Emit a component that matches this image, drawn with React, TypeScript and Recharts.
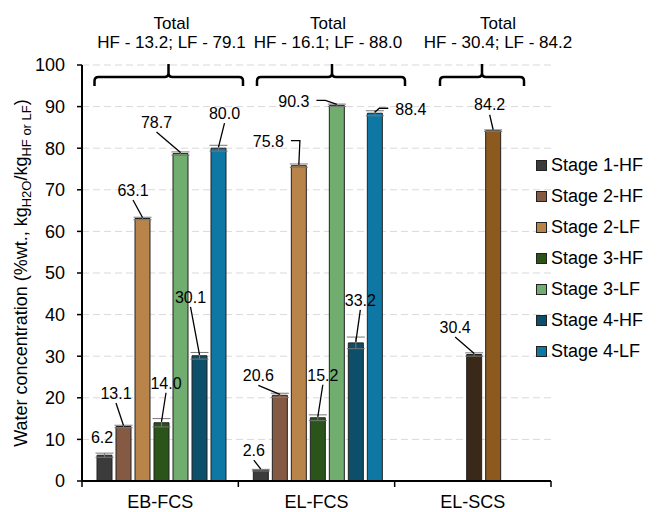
import React from "react";
import {
  BarChart,
  Bar,
  XAxis,
  YAxis,
  CartesianGrid,
  Legend,
  LabelList,
  ErrorBar,
  Cell,
} from "recharts";

const FONT = "'Liberation Sans', Arial, sans-serif";

const categories = ["EB-FCS", "EL-FCS", "EL-SCS"];

// water content per stage; EL-SCS only has one HF and one LF fraction
const stage1HF = [6.2, 2.6, null];
const stage2HF = [13.1, 20.6, null];
const stage2LF = [63.1, 75.8, null];
const stage3HF = [14.0, 15.2, 30.4];
const stage3LF = [78.7, 90.3, 84.2];
const stage4HF = [30.1, 33.2, null];
const stage4LF = [80.0, 88.4, null];

// standard deviations
const stage1HFErr = [0.5, 0.2, null];
const stage2HFErr = [0.3, 0.5, null];
const stage2LFErr = [0.3, 0.4, null];
const stage3HFErr = [1.0, 0.7, 0.4];
const stage3LFErr = [0.4, 0.3, 0.2];
const stage4HFErr = [0.8, 1.4, null];
const stage4LFErr = [0.7, 0.6, null];

const totalHF = [13.2, 16.1, 30.4];
const totalLF = [79.1, 88.0, 84.2];

const yTicks = [0, 10, 20, 30, 40, 50, 60, 70, 80, 90, 100];

const series = [
  { key: "s1hf", name: "Stage 1-HF", values: stage1HF, errors: stage1HFErr, color: "#3b3b3b" },
  { key: "s2hf", name: "Stage 2-HF", values: stage2HF, errors: stage2HFErr, color: "#845a45" },
  { key: "s2lf", name: "Stage 2-LF", values: stage2LF, errors: stage2LFErr, color: "#b9844a" },
  { key: "s3hf", name: "Stage 3-HF", values: stage3HF, errors: stage3HFErr, color: "#2a5419" },
  { key: "s3lf", name: "Stage 3-LF", values: stage3LF, errors: stage3LFErr, color: "#70ad6f" },
  { key: "s4hf", name: "Stage 4-HF", values: stage4HF, errors: stage4HFErr, color: "#0d4f6b" },
  { key: "s4lf", name: "Stage 4-LF", values: stage4LF, errors: stage4LFErr, color: "#0f77a3" },
];

// the single-stage EL-SCS bars get their own colours
const scsColors: Record<string, string> = { s3hf: "#3a2918", s3lf: "#8c5a1f" };

const data = categories.map((name, i) => {
  const row: Record<string, any> = { name };
  series.forEach((s) => {
    row[s.key] = s.values[i];
    row[s.key + "Err"] = s.errors[i];
  });
  return row;
});

// chart geometry
const W = 667;
const H = 512;
const PLOT_TOP = 65;
const PLOT_BOTTOM = 481;
const PLOT_LEFT = 82;
const PLOT_RIGHT = 551;
const Y_AXIS_W = 40;
const X_AXIS_H = 31;
const BAND = (PLOT_RIGHT - PLOT_LEFT) / categories.length;

type Leader = "none" | "down" | "side";
// callout placement: offset of the label centre from the bar top, and leader style
const labelPlacement: Record<string, ([number, number, Leader] | null)[]> = {
  s1hf: [[-2.5, -18, "none"], [-7, -20, "down"], null],
  s2hf: [[-7.5, -33.5, "down"], [-21.5, -20, "down"], null],
  s2lf: [[-9.5, -28.5, "down"], [-30.5, -24, "side"], null],
  s3hf: [[4.5, -40, "down"], [5, -43, "down"], [-19, -27.5, "down"]],
  s3lf: [[-24, -31.6, "down"], [-43, -4, "side"], [-3.5, -26, "down"]],
  s4hf: [[-9, -59, "down"], [4.5, -43, "down"], null],
  s4lf: [[6, -35, "down"], [36, -4, "side"], null],
};

const halfTextWidth = (t: string) =>
  t.split("").reduce((w, c) => w + (c === "." ? 4.45 : 8.9), 0) / 2;

const makeLabel = (key: string) => (props: any) => {
  const { x, y, width, value, index } = props;
  if (value == null) return null;
  const place = labelPlacement[key][index];
  if (!place) return null;
  const [dx, dy, leader] = place;
  const bx = Number(x) + Number(width) / 2;
  const by = Number(y);
  const tx = bx + dx;
  const ty = by + dy;
  const text = Number(value).toFixed(1);
  let d = "";
  if (leader === "down") {
    d = `M${tx},${ty + 10}L${bx},${by - 1}`;
  } else if (leader === "side") {
    const dir = bx > tx ? 1 : -1;
    const sx = tx + dir * (halfTextWidth(text) + 7);
    d = `M${sx},${ty - 1}L${sx + dir * 9},${ty - 1}L${bx},${by - 1}`;
  }
  return (
    <g>
      {d && <path d={d} stroke="#000" strokeWidth={1.3} fill="none" />}
      <text x={tx} y={ty} dy="0.36em" textAnchor="middle" fontSize={16} fontFamily={FONT} fill="#000">
        {text}
      </text>
    </g>
  );
};

const CategoryTick = (props: any) => {
  const { x, payload, index } = props;
  const half = BAND / 2;
  return (
    <g>
      <line x1={x - half} x2={x - half} y1={PLOT_BOTTOM} y2={PLOT_BOTTOM + 6} stroke="#000" strokeWidth={1.5} />
      {index === categories.length - 1 && (
        <line x1={x + half} x2={x + half} y1={PLOT_BOTTOM} y2={PLOT_BOTTOM + 6} stroke="#000" strokeWidth={1.5} />
      )}
      <text x={x} y={PLOT_BOTTOM + 27} textAnchor="middle" fontSize={18} fontFamily={FONT} fill="#000">
        {payload.value}
      </text>
    </g>
  );
};

const renderLegend = () => (
  <div style={{ fontFamily: FONT, fontSize: 18, color: "#000" }}>
    {series.map((s) => (
      <div key={s.key} style={{ height: 31, display: "flex", alignItems: "center" }}>
        <span
          style={{
            width: 9,
            height: 9,
            background: s.color,
            border: "1px solid #222",
            marginRight: 4,
            display: "inline-block",
          }}
        />
        <span>{s.name}</span>
      </div>
    ))}
  </div>
);

// curly braces over each feed, with the total water contents
const braces = [
  { x0: 94.5, x1: 243, cx: 168.5, textX: 171.5 },
  { x0: 257, x1: 405, cx: 332, textX: 328 },
  { x0: 440, x1: 524, cx: 482, textX: 498 },
];

const bracePath = (x0: number, x1: number, cx: number) => {
  const y = 77;
  const r = 4;
  return (
    `M${x0},86L${x0},${y + r}Q${x0},${y} ${x0 + r},${y}L${cx - r},${y}Q${cx},${y} ${cx},${y - r}L${cx},64` +
    `M${cx},${y - r}Q${cx},${y} ${cx + r},${y}L${x1 - r},${y}Q${x1},${y} ${x1},${y + r}L${x1},86`
  );
};

export default function App() {
  return (
    <div style={{ position: "absolute", left: 0, top: 0, width: W, height: H, background: "#fff" }}>
      <BarChart
        width={W}
        height={H}
        data={data}
        margin={{ top: PLOT_TOP, right: W - PLOT_RIGHT, bottom: H - PLOT_BOTTOM - X_AXIS_H, left: PLOT_LEFT - Y_AXIS_W }}
        barCategoryGap={15}
        barGap={4}
      >
        <CartesianGrid vertical={false} stroke="#d9d9d9" strokeDasharray="7 4" />
        <XAxis
          dataKey="name"
          height={X_AXIS_H}
          interval={0}
          axisLine={{ stroke: "#000", strokeWidth: 2 }}
          tickLine={false}
          tick={<CategoryTick />}
        />
        <YAxis
          domain={[0, 100]}
          ticks={yTicks}
          width={Y_AXIS_W}
          axisLine={{ stroke: "#000", strokeWidth: 2 }}
          tickLine={{ stroke: "#000", strokeWidth: 1.5 }}
          tickSize={5}
          tickMargin={12}
          tick={{ fontSize: 18, fill: "#000", fontFamily: FONT }}
          allowDataOverflow
        />
        <Legend
          layout="horizontal"
          align="center"
          verticalAlign="middle"
          content={renderLegend}
          wrapperStyle={{ left: 536, top: 150, width: 130, height: 220 }}
        />
        {series.map((s) => (
          <Bar
            key={s.key}
            dataKey={s.key}
            name={s.name}
            fill={s.color}
            stroke="#222"
            strokeWidth={1}
            isAnimationActive={false}
          >
            {data.map((_, i) => (
              <Cell key={i} fill={i === 2 && scsColors[s.key] ? scsColors[s.key] : s.color} />
            ))}
            <ErrorBar dataKey={s.key + "Err"} width={9} stroke="#777" strokeWidth={1} direction="y" />
            <LabelList dataKey={s.key} content={makeLabel(s.key)} />
          </Bar>
        ))}
      </BarChart>
      <svg
        width={W}
        height={H}
        style={{ position: "absolute", left: 0, top: 0, pointerEvents: "none" }}
        fontFamily={FONT}
      >
        {braces.map((b, i) => (
          <g key={i}>
            <path d={bracePath(b.x0, b.x1, b.cx)} stroke="#000" strokeWidth={2.5} fill="none" />
            <text x={b.textX} y={29} textAnchor="middle" fontSize={17} fill="#000">
              Total
            </text>
            <text x={b.textX} y={48} textAnchor="middle" fontSize={17} fill="#000">
              {`HF - ${totalHF[i].toFixed(1)}; LF - ${totalLF[i].toFixed(1)}`}
            </text>
          </g>
        ))}
        <text
          x={27}
          y={(PLOT_TOP + PLOT_BOTTOM) / 2}
          transform={`rotate(-90, 27, ${(PLOT_TOP + PLOT_BOTTOM) / 2})`}
          textAnchor="middle"
          fontSize={18}
          fill="#000"
        >
          Water concentration (%wt., kg
          <tspan fontSize={13} dy={4}>H2O</tspan>
          <tspan dy={-4}>/kg</tspan>
          <tspan fontSize={13} dy={4}>HF or LF</tspan>
          <tspan dy={-4}>)</tspan>
        </text>
      </svg>
    </div>
  );
}
